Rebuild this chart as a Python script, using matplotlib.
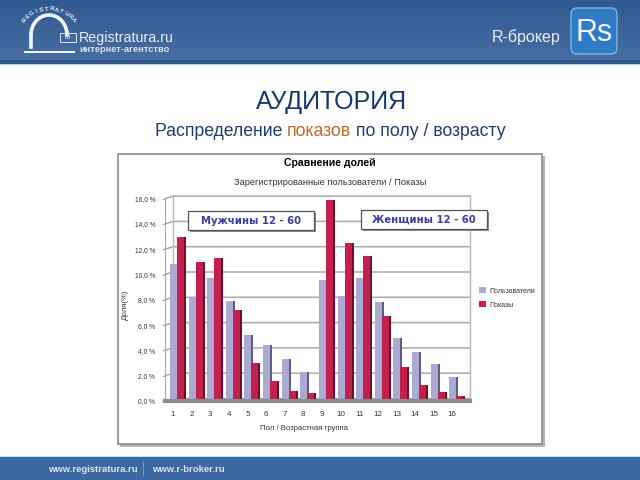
#!/usr/bin/env python
"""Слайд: распределение показов по полу / возрасту."""
import numpy as np
import matplotlib
matplotlib.use("Agg")
import matplotlib.pyplot as plt
from matplotlib.patches import Rectangle, FancyBboxPatch, Arc, Patch
from matplotlib.ticker import FuncFormatter

plt.rcParams["font.family"] = ["Liberation Sans", "DejaVu Sans"]

groups = list(range(1, 17))
users = [10.8, 8.2, 9.7, 7.9, 5.2, 4.4, 3.3, 2.3, 9.6, 8.3, 9.7, 7.8, 5.0, 3.9, 2.9, 1.9]
shows = [13.0, 11.0, 11.3, 7.2, 3.0, 1.6, 0.8, 0.6, 15.9, 12.5, 11.5, 6.7, 2.7, 1.3, 0.7, 0.4]
yticks = [0, 2, 4, 6, 8, 10, 12, 14, 16]
series_names = ["Пользователи", "Показы"]

BLUE, BLUE_D = "#aaaad2", "#5c5c88"
RED, RED_D = "#c4204f", "#6e0f2c"
STEP = 18.62   # px на категорию
PX_Y = 12.65   # px на 1 %


def axes_px(fig, x0, y0, x1, y1, **kw):
    # прямоугольник в пикселях картинки (y вниз)
    return fig.add_axes([x0 / 640, 1 - y1 / 480, (x1 - x0) / 640, (y1 - y0) / 480], **kw)


fig = plt.figure(figsize=(6.4, 4.8), dpi=100, facecolor="white")

# ---- фон: шапка, подвал, рамка графика ----
bg = axes_px(fig, 0, 0, 640, 480, zorder=0)
bg.set_xlim(0, 640); bg.set_ylim(480, 0); bg.axis("off")
grad = np.linspace(0, 1, 60)[:, None, None] * np.array([[[0.09, 0.08, 0.07]]]) + np.array([[[0.19, 0.35, 0.57]]])
bg.imshow(grad, extent=(0, 640, 60, 0), aspect="auto", zorder=1)
bg.set_xlim(0, 640); bg.set_ylim(480, 0)
bg.add_patch(Rectangle((0, 60), 640, 4, fc="#2f5688", ec="none", zorder=2))
bg.add_patch(Rectangle((0, 64), 640, 1, fc="#b8cfe8", ec="none", zorder=2))
bg.add_patch(Rectangle((0, 457), 640, 23, fc="#3d69a3", ec="none", zorder=2))
bg.add_patch(Rectangle((0, 456), 640, 1, fc="#cfdcec", ec="none", zorder=2))
bg.plot([143, 143], [461, 475], color="#7f9fc6", lw=0.6, zorder=3)

# логотип
bg.add_patch(Rectangle((24, 50.5), 51, 2.5, fc="#f2f5f9", ec="none", zorder=3))
bg.add_patch(Arc((49, 35), 36, 40, theta1=180, theta2=360, ec="#f2f5f9", lw=2.6, zorder=3))
bg.plot([31, 31], [35, 47], color="#f2f5f9", lw=2.6, zorder=3)
bg.plot([67, 67], [35, 33], color="#f2f5f9", lw=2.6, zorder=3)
for i, ch in enumerate("REGISTRATURA"):
    a = np.deg2rad(145 - i * 10)
    bg.text(49 + 30 * np.cos(a), 35 - 26 * np.sin(a), ch, color="#e8edf4", fontsize=4.4, fontweight="bold",
            rotation=np.rad2deg(a) - 90, ha="center", va="center", zorder=3)
bg.add_patch(Rectangle((60, 33), 16, 9, fc="none", ec="#dfe7f1", lw=0.7, zorder=3))
bg.text(68, 37.5, "ru", color="#dfe7f1", fontsize=5, ha="center", va="center", zorder=3)
bg.text(79, 38, "Registratura.ru", color="#e8edf4", fontsize=10.3, ha="left", va="center", zorder=3)
bg.text(79, 50, "интернет-агентство", color="#d8e1ec", fontsize=6.7, fontweight="bold", ha="left", va="center", zorder=3)

# R-брокер
bg.text(492, 37, "R-брокер", color="#e8edf4", fontsize=11.5, ha="left", va="center", zorder=3)
bg.add_patch(FancyBboxPatch((571, 8), 46, 46, boxstyle="round,pad=0,rounding_size=6", fc="#2f7cc4", ec="#7fb4e0", lw=1, zorder=3))
bg.text(594, 33, "Rs", color="#eef4fb", fontsize=22, ha="center", va="center", zorder=4)

bg.text(332, 102, "АУДИТОРИЯ", color="#17376c", fontsize=18, ha="center", va="center", zorder=3)
t1 = bg.text(155, 132, "Распределение ", color="#1f3c6e", fontsize=12.7, ha="left", va="center", zorder=3)
t2 = bg.annotate("показов", xy=(1, 0), xycoords=t1, va="bottom", ha="left", color="#c4682a", fontsize=12.7, zorder=3)
bg.annotate(" по полу / возрасту", xy=(1, 0), xycoords=t2, va="bottom", ha="left", color="#1f3c6e", fontsize=12.7, zorder=3)

bg.text(48, 469, "www.registratura.ru", color="#dbe4f0", fontsize=6.8, fontweight="bold", ha="left", va="center", zorder=3)
bg.text(152, 469, "www.r-broker.ru", color="#dbe4f0", fontsize=6.8, fontweight="bold", ha="left", va="center", zorder=3)

# рамка графика с тенью
bg.add_patch(Rectangle((120, 156), 425, 291, fc="#b5b5b5", ec="none", zorder=2))
bg.add_patch(Rectangle((118, 154), 424, 290, fc="white", ec="#8a8a8a", lw=1.2, zorder=3))
bg.text(330, 163.5, "Сравнение долей", color="black", fontsize=7.6, fontweight="bold", ha="center", va="center", zorder=4)
bg.text(330, 182.5, "Зарегистрированные пользователи / Показы", color="#333333", fontsize=6.7, ha="center", va="center", zorder=4)
bg.text(125, 305, "Доля(%)", color="#333333", fontsize=5.6, rotation=90, ha="center", va="center", zorder=4)
bg.text(304, 429, "Пол / Возрастная группа", color="#333333", fontsize=5.6, ha="center", va="center", zorder=4)

# ---- сам график ----
ax = axes_px(fig, 165, 401 - 16.4 * PX_Y, 470, 401, zorder=1)
ax.patch.set_alpha(0)
ax.set_xlim(1 - 8 / STEP, 1 + (470 - 173) / STEP)
ax.set_ylim(0, 16.4)
x = np.array(groups, dtype=float)
off = 2.5 / PX_Y  # сдвиг задней стенки
for v in yticks:
    ax.plot([1 - 8 / STEP, 1, ax.get_xlim()[1]], [v, v + off, v + off], color="#a9a9a9", lw=1.1, zorder=1, clip_on=False)
ax.plot([1, 1], [off, 16 + off], color="#b5b5b5", lw=1, zorder=1, clip_on=False)
ax.plot([ax.get_xlim()[1]] * 2, [off, 16 + off], color="#b5b5b5", lw=1, zorder=1, clip_on=False)
w = 7 / STEP
depth = 2 / STEP
bx = x + 0.5 / STEP
rx = x + 7.5 / STEP
ax.bar(bx + depth, users, width=w, color=BLUE_D, zorder=2)
ax.bar(bx, users, width=w, color=BLUE, zorder=3)
ax.bar(rx + depth, shows, width=w, color=RED_D, zorder=4)
ax.bar(rx, shows, width=w, color=RED, zorder=5)
ax.axhline(0, color="#8a8a8a", lw=3, zorder=6, clip_on=False)

for s in ax.spines.values():
    s.set_visible(False)
ax.spines["left"].set_visible(True)
ax.spines["left"].set_color("#a9a9a9")
ax.spines["left"].set_bounds(0, 16)
ax.set_xticks(groups)
ax.set_yticks(yticks)
ax.yaxis.set_major_formatter(FuncFormatter(lambda v, _: f"{v:.1f}".replace(".", ",") + " %"))
ax.tick_params(axis="x", length=0, pad=7, labelsize=5.8, labelcolor="#333333")
ax.tick_params(axis="y", length=2, pad=5, labelsize=4.8, labelcolor="#333333", color="#a9a9a9")

handles = [Patch(fc=BLUE, ec="none"), Patch(fc=RED, ec="none")]
leg = fig.legend(handles, series_names, loc="center left", bbox_to_anchor=(473 / 640, 1 - 298 / 480),
                 frameon=False, fontsize=5, handlelength=0.9, handleheight=0.9, handletextpad=0.5,
                 labelspacing=1.0, labelcolor="#333333")

# ---- подписи-выноски ----
top = axes_px(fig, 0, 0, 640, 480, zorder=3)
top.set_xlim(0, 640); top.set_ylim(480, 0); top.axis("off"); top.patch.set_alpha(0)
for x0, y0, label in ((188, 211, "Мужчины 12 - 60"), (361, 210, "Женщины 12 - 60")):
    top.add_patch(Rectangle((x0 + 2, y0 + 2), 126, 19, fc="#8c8c8c", ec="none"))
    top.add_patch(Rectangle((x0, y0), 126, 19, fc="white", ec="#555555", lw=0.9))
    top.text(x0 + 63, y0 + 9.5, label, color="#3c3ca6", fontsize=7.3, fontweight="bold",
             family="DejaVu Sans", ha="center", va="center")

fig.savefig("out.png", dpi=100)
